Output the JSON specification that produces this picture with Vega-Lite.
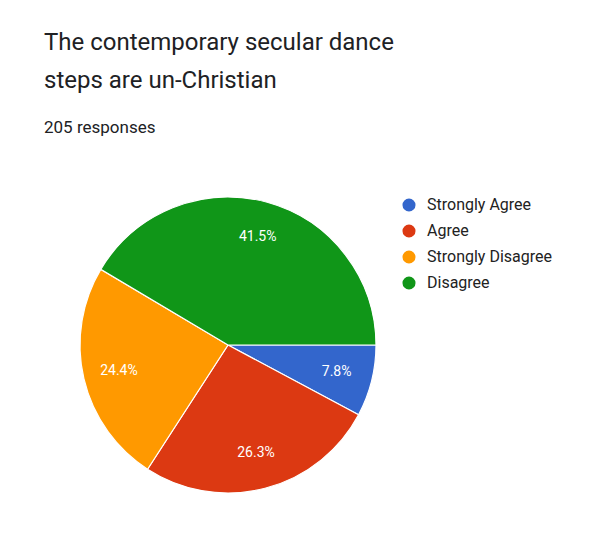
{
  "$schema": "https://vega.github.io/schema/vega-lite/v6.json",
  "width": 300,
  "height": 300,
  "autosize": {"type": "none"},
  "padding": {"left": 78, "top": 195, "right": 220, "bottom": 38},
  "background": "white",
  "title": {
    "text": ["The contemporary secular dance", "steps are un-Christian"],
    "subtitle": "205 responses",
    "anchor": "start",
    "frame": "group",
    "dx": -34,
    "offset": 59,
    "font": "Roboto",
    "fontSize": 24,
    "fontWeight": "normal",
    "color": "#202124",
    "lineHeight": 38,
    "subtitleFont": "Roboto",
    "subtitleFontSize": 17,
    "subtitleColor": "#202124",
    "subtitlePadding": 27
  },
  "data": {
    "values": [
      {"answer": "Strongly Agree", "count": 16, "pct": "7.8%", "idx": 1},
      {"answer": "Agree", "count": 54, "pct": "26.3%", "idx": 2},
      {"answer": "Strongly Disagree", "count": 50, "pct": "24.4%", "idx": 3},
      {"answer": "Disagree", "count": 85, "pct": "41.5%", "idx": 4}
    ]
  },
  "encoding": {
    "theta": {"field": "count", "type": "quantitative", "stack": true, "scale": {"range": [1.5708, 7.8540]}},
    "order": {"field": "idx", "type": "quantitative"}
  },
  "layer": [
    {
      "mark": {"type": "arc", "outerRadius": 148, "stroke": "white", "strokeWidth": 1.2},
      "encoding": {
        "color": {
          "field": "answer",
          "type": "nominal",
          "scale": {
            "domain": ["Strongly Agree", "Agree", "Strongly Disagree", "Disagree"],
            "range": ["#3366cc", "#dc3912", "#ff9900", "#109618"]
          },
          "legend": {
            "title": null,
            "orient": "none",
            "legendX": 323,
            "legendY": 2,
            "symbolType": "circle",
            "symbolSize": 170,
            "symbolStrokeWidth": 0,
            "labelFont": "Roboto",
            "labelFontSize": 16,
            "labelColor": "#222222",
            "labelOffset": 10,
            "rowPadding": 10
          }
        }
      }
    },
    {
      "mark": {"type": "text", "radius": 112, "font": "Roboto", "fontSize": 14, "color": "white"},
      "encoding": {"text": {"field": "pct"}}
    }
  ]
}
